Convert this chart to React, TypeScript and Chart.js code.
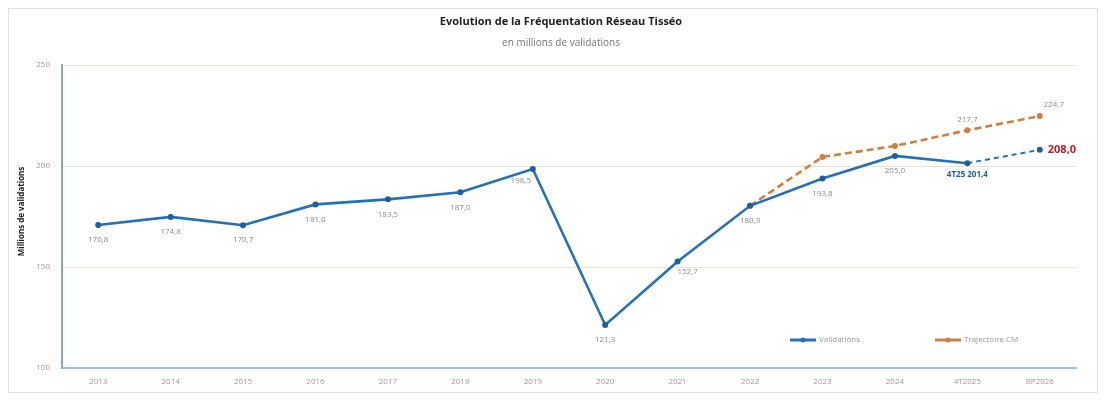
import React, { useEffect, useRef } from "react";
import { Chart, registerables } from "chart.js";

Chart.register(...registerables);

const categories = ["2013", "2014", "2015", "2016", "2017", "2018", "2019", "2020", "2021", "2022", "2023", "2024", "4T2025", "BP2026"];
const validations = [170.8, 174.8, 170.7, 181.0, 183.5, 187.0, 198.5, 121.3, 152.7, 180.3, 193.8, 205.0, 201.4, 208.0];
const trajectoire = [null, null, null, null, null, null, null, null, null, 180.3, 204.5, 209.9, 217.7, 224.7];
const validationLabels = ["170,8", "174,8", "170,7", "181,0", "183,5", "187,0", "198,5", "121,3", "152,7", "180,3", "193,8", "205,0", "4T25 201,4", "208,0"];
const trajectoireLabels = ["", "", "", "", "", "", "", "", "", "", "", "", "217,7", "224,7"];
const yMin = 100;
const yMax = 250;
const yStep = 50;

const TITLE = "Evolution de la Fréquentation Réseau Tisséo";
const SUBTITLE = "en millions de validations";
const Y_TITLE = "Millions de validations";
const LEGEND = ["Validations", "Trajectoire CM"];

const BLUE = "#2372b9";
const BLUE_DARK = "#1d5f9e";
const ORANGE = "#d07f3e";
const FONT = "'Open Sans', 'Noto Sans', sans-serif";

const overlayPlugin = {
  id: "overlay",
  afterDraw(chart: any) {
    const ctx = chart.ctx;
    const area = chart.chartArea;
    const w = chart.width;
    ctx.save();
    // title
    ctx.textAlign = "center";
    ctx.textBaseline = "middle";
    ctx.fillStyle = "#222";
    ctx.font = `bold 11px ${FONT}`;
    ctx.fillText(TITLE, w / 2 + 8, 13);
    ctx.fillStyle = "#777";
    ctx.font = `10px ${FONT}`;
    ctx.fillText(SUBTITLE, w / 2 + 8, 34);
    // y title
    ctx.save();
    ctx.translate(13, (area.top + area.bottom) / 2 - 5);
    ctx.rotate(-Math.PI / 2);
    ctx.fillStyle = "#222";
    ctx.font = `bold 8px ${FONT}`;
    ctx.fillText(Y_TITLE, 0, 0);
    ctx.restore();

    // data labels
    const m0 = chart.getDatasetMeta(0);
    const m1 = chart.getDatasetMeta(1);
    ctx.font = `8px ${FONT}`;
    m0.data.forEach((pt: any, i: number) => {
      const txt = validationLabels[i];
      if (!txt) return;
      let x = pt.x, y = pt.y + 15, color = "#8a8a8a", font = `8px ${FONT}`, align: any = "center";
      if (i === 6) { x = pt.x - 12; y = pt.y + 12; }
      if (i === 8) { x = pt.x + 10; y = pt.y + 10; }
      if (i === 12) { y = pt.y + 12; color = BLUE_DARK; font = `bold 8px ${FONT}`; }
      if (i === 13) { x = pt.x + 8; y = pt.y; color = "#c0202a"; font = `bold 11px ${FONT}`; align = "left"; }
      ctx.font = font;
      ctx.fillStyle = color;
      ctx.textAlign = align;
      ctx.fillText(txt, x, y);
    });
    m1.data.forEach((pt: any, i: number) => {
      const txt = trajectoireLabels[i];
      if (!txt) return;
      let x = pt.x, y = pt.y - 11;
      if (i === 13) { x = pt.x + 14; y = pt.y - 11; }
      ctx.font = `8px ${FONT}`;
      ctx.fillStyle = "#8a8a8a";
      ctx.textAlign = "center";
      ctx.fillText(txt, x, y);
    });

    // legend
    const ly = area.bottom - 28;
    const items = [
      { x: area.right - 286, color: BLUE, text: LEGEND[0] },
      { x: area.right - 141, color: ORANGE, text: LEGEND[1] },
    ];
    items.forEach((it) => {
      ctx.strokeStyle = it.color;
      ctx.lineWidth = 3;
      ctx.beginPath();
      ctx.moveTo(it.x, ly);
      ctx.lineTo(it.x + 26, ly);
      ctx.stroke();
      ctx.fillStyle = it.color;
      ctx.beginPath();
      ctx.arc(it.x + 13, ly, 2.5, 0, Math.PI * 2);
      ctx.fill();
      ctx.fillStyle = "#999";
      ctx.font = `8px ${FONT}`;
      ctx.textAlign = "left";
      ctx.fillText(it.text, it.x + 29, ly);
    });
    ctx.restore();
  },
};

export default function App() {
  const ref = useRef<HTMLCanvasElement | null>(null);
  useEffect(() => {
    if (!ref.current) return;
    const chart = new Chart(ref.current, {
      type: "line",
      data: {
        labels: categories,
        datasets: [
          {
            label: LEGEND[0],
            data: validations,
            borderColor: BLUE,
            backgroundColor: BLUE_DARK,
            borderWidth: 2.6,
            pointRadius: 3,
            pointBackgroundColor: BLUE_DARK,
            pointBorderWidth: 0,
            tension: 0,
            segment: {
              borderDash: (c: any) => (c.p0DataIndex >= 12 ? [5, 4] : undefined),
              borderWidth: (c: any) => (c.p0DataIndex >= 12 ? 2 : 2.6),
            },
            order: 1,
          },
          {
            label: LEGEND[1],
            data: trajectoire,
            borderColor: ORANGE,
            backgroundColor: ORANGE,
            borderWidth: 2.6,
            borderDash: [7, 4],
            pointRadius: 3,
            pointBackgroundColor: ORANGE,
            pointBorderWidth: 0,
            spanGaps: false,
            order: 2,
          },
        ],
      },
      options: {
        animation: false,
        responsive: false,
        maintainAspectRatio: false,
        layout: { padding: { top: 56, right: 21, left: 0, bottom: 0 } },
        plugins: {
          legend: { display: false },
          title: { display: false },
          tooltip: { enabled: false },
        },
        scales: {
          x: {
            offset: true,
            grid: { display: false, drawTicks: false },
            border: { display: true, color: "#9cc3e6", width: 2 },
            ticks: { color: "#9a9a9a", font: { family: FONT, size: 8 }, padding: 9, maxRotation: 0 },
            afterFit: (s: any) => { s.height = 24; },
          },
          y: {
            min: yMin,
            max: yMax,
            grid: { color: "#f0e2d2", lineWidth: 1, drawTicks: false },
            border: { display: true, color: "#7fa9d3", width: 2 },
            ticks: { stepSize: yStep, color: "#9a9a9a", font: { family: FONT, size: 8 }, padding: 12 },
            afterFit: (s: any) => { s.width = 53; },
          },
        },
      },
      plugins: [overlayPlugin],
    });
    return () => chart.destroy();
  }, []);
  return (
    <div style={{ width: 1088, height: 383, border: "1px solid #e2e2e2", background: "#fff" }}>
      <canvas ref={ref} width={1088} height={383} style={{ display: "block", width: 1088, height: 383 }} />
    </div>
  );
}
